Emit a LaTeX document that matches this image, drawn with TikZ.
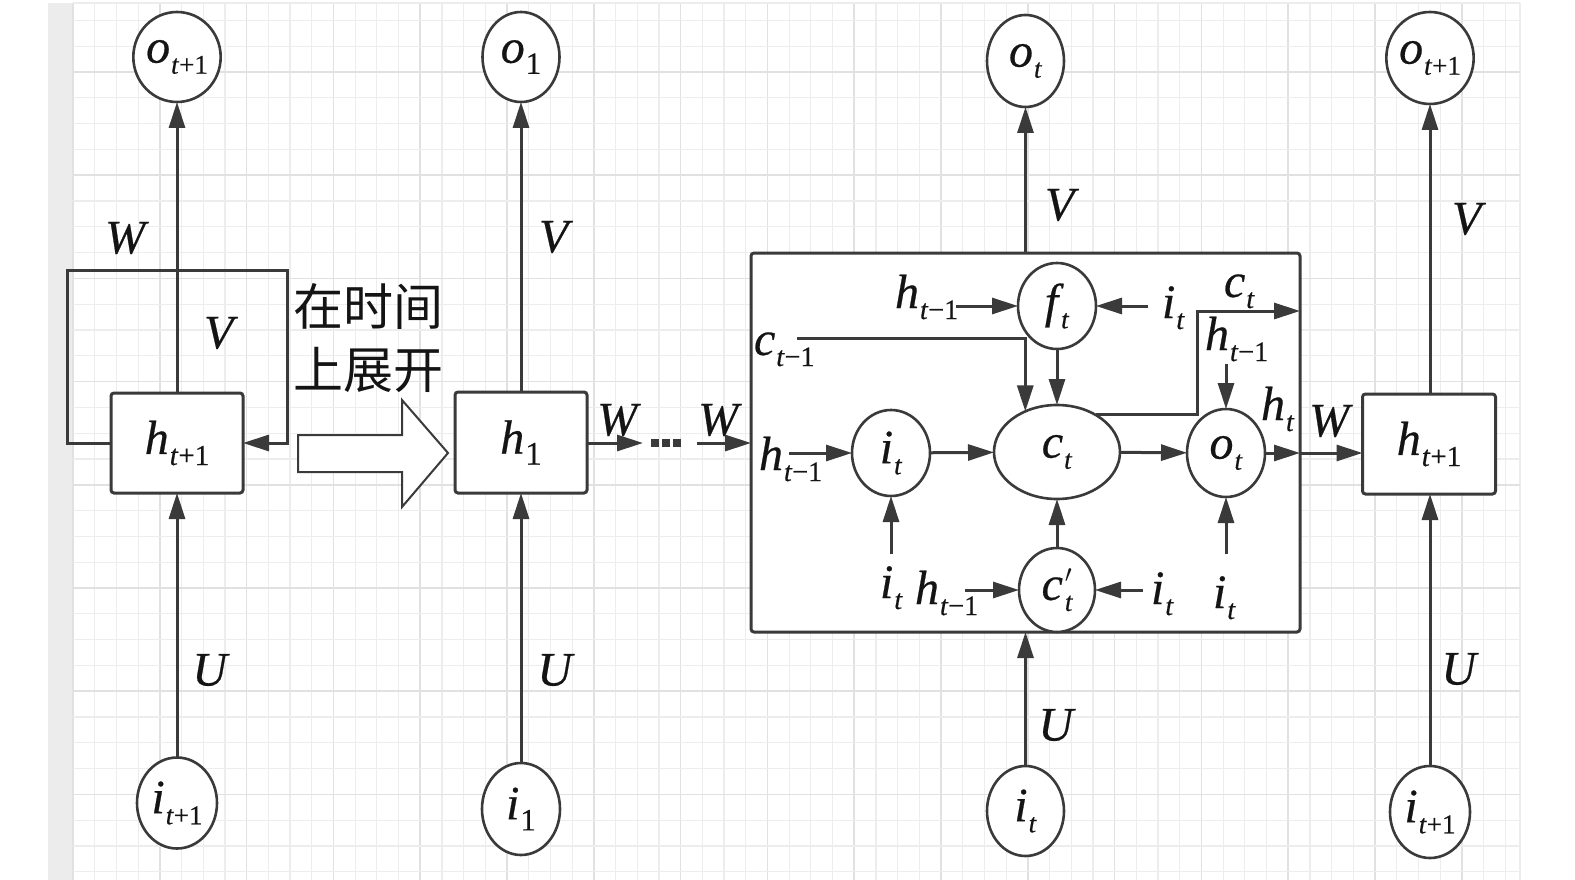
\documentclass[tikz,border=0pt]{standalone}
\usepackage{fontspec}
\usepackage{graphicx}
\setmainfont{LiberationSerif}[Extension=.ttf, UprightFont=*-Regular, BoldFont=*-Bold, ItalicFont=*-Italic, BoldItalicFont=*-BoldItalic, FakeBold=0.5]
\newfontfamily\cjk{Noto Sans CJK SC}
\usetikzlibrary{arrows.meta,shapes.geometric,calc}
\definecolor{edge}{RGB}{58,58,58}
\definecolor{gridminor}{RGB}{237,237,237}
\definecolor{gridmajor}{RGB}{225,225,225}
\definecolor{strip}{RGB}{236,236,236}
\newcommand\sbx[3][28]{{\itshape #2}\kern1pt\raisebox{-0.23em}{\fontsize{#1}{#1}\selectfont #3}}
\newcommand\cprm{{\itshape c}\kern2pt\rlap{\raisebox{0.36em}{\fontsize{28}{28}\selectfont$\prime$}}\raisebox{-0.23em}{\fontsize{27}{27}\selectfont\itshape t}}
\begin{document}
\begin{tikzpicture}[x=1pt,y=-1pt,
  every node/.style={inner sep=0pt, outer sep=0pt, text=black!92},
  lbl/.style={font=\fontsize{48}{48}\selectfont},
  ell/.style={ellipse, draw=edge, line width=2.6pt, fill=white, font=\fontsize{48}{48}\selectfont},
  cell/.style={draw=edge, line width=3pt, fill=white, rounded corners=3pt, font=\fontsize{48}{48}\selectfont},
  arr/.style={draw=edge, line width=3pt, -{Triangle[length=26pt,width=16pt]}},
]
% canvas
\useasboundingbox (0,0) rectangle (1575,880);
\fill[white] (0,0) rectangle (1575,880);
\fill[strip] (48,3) rectangle (73,880);
% grid
\foreach \k in {0,...,66} {
  \pgfmathtruncatemacro\m{mod(\k,4)}
  \ifnum\m=0
    \draw[gridmajor, line width=1.6pt] ({73+21.7*\k},3) -- ({73+21.7*\k},880);
  \else
    \draw[gridminor, line width=1.2pt] ({73+21.7*\k},3) -- ({73+21.7*\k},880);
  \fi
}
\draw[gridminor, line width=1.2pt] (1520,3) -- (1520,880);
\foreach \k in {-2,...,31} {
  \pgfmathtruncatemacro\m{mod(\k+8,4)}
  \ifnum\m=0
    \draw[gridmajor, line width=1.6pt] (73,{72+25.8*\k}) -- (1520,{72+25.8*\k});
  \else
    \draw[gridminor, line width=1.2pt] (73,{72+25.8*\k}) -- (1520,{72+25.8*\k});
  \fi
}
\draw[gridminor, line width=1.2pt] (73,3) -- (1520,3);

% ---------- column A (folded RNN)
\node[ell, minimum width=79pt, minimum height=90pt] (oA) at (177,57) {\sbx[27]{o}{\textit{t}+1}};
\node[cell, minimum width=132pt, minimum height=100pt] (boxA) at (177,443) {\sbx[29]{h}{\textit{t}+1}};
\node[ell, minimum width=80pt, minimum height=91pt] (iA) at (177,803) {\sbx[27]{i}{\textit{t}+1}};
\coordinate (loopTL) at (67,270);
\coordinate (loopTR) at (287,270);
\draw[arr] (boxA.west) -| (loopTL) -- (loopTR) |- (boxA.east);
\draw[arr] (boxA) -- (oA);
\draw[arr] (iA) -- (boxA);
\node[lbl] (WA) at (127,238) {\textit{W}};
\node[lbl] (VA) at (221,333) {\textit{V}};
\node[lbl] (UA) at (211,670) {\textit{U}};

% unfold text and hollow arrow
\node[font=\cjk\fontsize{50}{63}\selectfont, align=left] (unfold) at (368,338) {在时间\\上展开};
\draw[edge, line width=2pt, fill=white, line join=miter] (298,435) -- (402,435) -- (402,400) -- (448,453) -- (402,507) -- (402,472) -- (298,472) -- cycle;

% ---------- column B
\node[ell, minimum width=77pt, minimum height=90pt] (oB) at (521,57) {\sbx[31]{o}{1}};
\node[cell, minimum width=132pt, minimum height=101pt] (boxB) at (521,442.5) {\sbx[33]{h}{1}};
\node[ell, minimum width=78pt, minimum height=92pt] (iB) at (521,809) {\sbx[31]{i}{1}};
\draw[arr] (boxB) -- (oB);
\draw[arr] (iB) -- (boxB);
\node[lbl] (VB) at (556,237) {\textit{V}};
\node[lbl] (UB) at (556,670) {\textit{U}};
\coordinate (dotsL) at (643,443);
\coordinate (dotsR) at (697,443);
\draw[arr] (boxB.east |- dotsL) -- (dotsL);
\foreach \dx in {655,666,677} \fill[edge] (\dx-3.8,439.2) rectangle (\dx+3.8,446.8);
\node[lbl] (WB1) at (619,420) {\textit{W}};
\node[lbl] (WB2) at (720,420) {\textit{W}};

% ---------- column C (LSTM)
\node[cell, minimum width=549pt, minimum height=379pt] (lstm) at (1025.5,442.5) {};
\node[ell, minimum width=77pt, minimum height=92pt] (oC) at (1025.5,61) {\sbx[27]{o}{\textit{t}}};
\node[ell, minimum width=77pt, minimum height=90pt] (iC) at (1025.5,811) {\sbx[27]{i}{\textit{t}}};
\draw[arr] (lstm.north) -- (oC);
\draw[arr] (iC) -- (lstm.south);
\node[lbl] (VC) at (1062,205) {\textit{V}};
\node[lbl] (UC) at (1057,725) {\textit{U}};
\draw[arr] (dotsR) -- (dotsR -| lstm.west);

% gates
\node[ell, minimum width=78pt, minimum height=86pt] (ft) at (1057,306) {\sbx[27]{f}{\kern2pt\textit{t}}};
\node[ell, minimum width=126pt, minimum height=94pt] (ct) at (1057,452) {\sbx[27]{c}{\textit{t}}};
\node[ell, minimum width=78pt, minimum height=86pt] (it) at (891,453) {\sbx[27]{i}{\textit{t}}};
\node[ell, minimum width=78pt, minimum height=88pt] (ot) at (1226,453) {\sbx[27]{o}{\textit{t}}};
\node[ell, minimum width=76pt, minimum height=84pt] (cp) at (1057,590) {\cprm};

% labels inside LSTM
\node[lbl, anchor=base west] (hf) at (895,308) {\sbx[28]{h}{\textit{t}−1}};
\node[lbl, anchor=base west] (if) at (1162,318) {\sbx[28]{i}{\textit{t}}};
\node[lbl, anchor=base west] (cm) at (754,355) {\sbx[28]{c}{\textit{t}−1}};
\node[lbl, anchor=base west] (hi) at (759,470) {\sbx[28]{h}{\textit{t}−1}};
\node[lbl, anchor=base west] (ii) at (880,598) {\sbx[28]{i}{\textit{t}}};
\node[lbl, anchor=base west] (hc) at (915,604) {\sbx[28]{h}{\textit{t}−1}};
\node[lbl, anchor=base west] (ic) at (1151,604) {\sbx[28]{i}{\textit{t}}};
\node[lbl, anchor=base west] (io) at (1213,608) {\sbx[28]{i}{\textit{t}}};
\node[lbl, anchor=base west] (cout) at (1224,297) {\sbx[28]{c}{\textit{t}}};
\node[lbl, anchor=base west] (ho) at (1205,350) {\sbx[28]{h}{\textit{t}−1}};
\node[lbl, anchor=base west] (hout) at (1261,420) {\sbx[28]{h}{\textit{t}}};

% internal connectors
\coordinate (cmS) at (797,338);
\coordinate (cturn) at (1197,311);
\draw[arr] ([xshift=-2pt]hf.east |- ft) -- (ft);
\draw[arr] ([xshift=-14pt]if.west |- ft) -- (ft);
\draw[arr] (cmS) -| (ct.128);
\draw[arr] (ft) -- (ct);
\draw[arr] ([xshift=-33pt]hi.east |- it) -- (it);
\draw[arr] (it) -- (ct);
\draw[arr] ([yshift=12pt]ii.north -| it) -- (it);
\draw[arr] (cp) -- (ct);
\draw[arr] ([xshift=-13pt]hc.east |- cp) -- (cp);
\draw[arr] ([xshift=-8pt]ic.west |- cp) -- (cp);
\draw[arr] (ct) -- (ot);
\draw[arr] (ct.44) -| (cturn) -- (cturn -| lstm.east);
\draw[arr] ([yshift=-3pt]ho.south -| ot) -- (ot);
\draw[arr] ([yshift=22pt]io.north -| ot) -- (ot);
\draw[arr] (ot) -- (ot -| lstm.east);

% ---------- column D
\node[ell, minimum width=78pt, minimum height=92pt] (oD) at (1430,58) {\sbx[27]{o}{\textit{t}+1}};
\node[cell, minimum width=133pt, minimum height=100pt] (boxD) at (1429,444) {\sbx[29]{h}{\textit{t}+1}};
\node[ell, minimum width=80pt, minimum height=92pt] (iD) at (1430,812) {\sbx[27]{i}{\textit{t}+1}};
\draw[arr] (boxD.north -| oD) -- (oD);
\draw[arr] (iD) -- (boxD.south -| iD);
\draw[arr] (ot -| lstm.east) -- (ot -| boxD.west);
\node[lbl] (VD) at (1469,219) {\textit{V}};
\node[lbl] (UD) at (1460,669) {\textit{U}};
\node[lbl] (WD) at (1331,421) {\textit{W}};
\end{tikzpicture}
\end{document}
